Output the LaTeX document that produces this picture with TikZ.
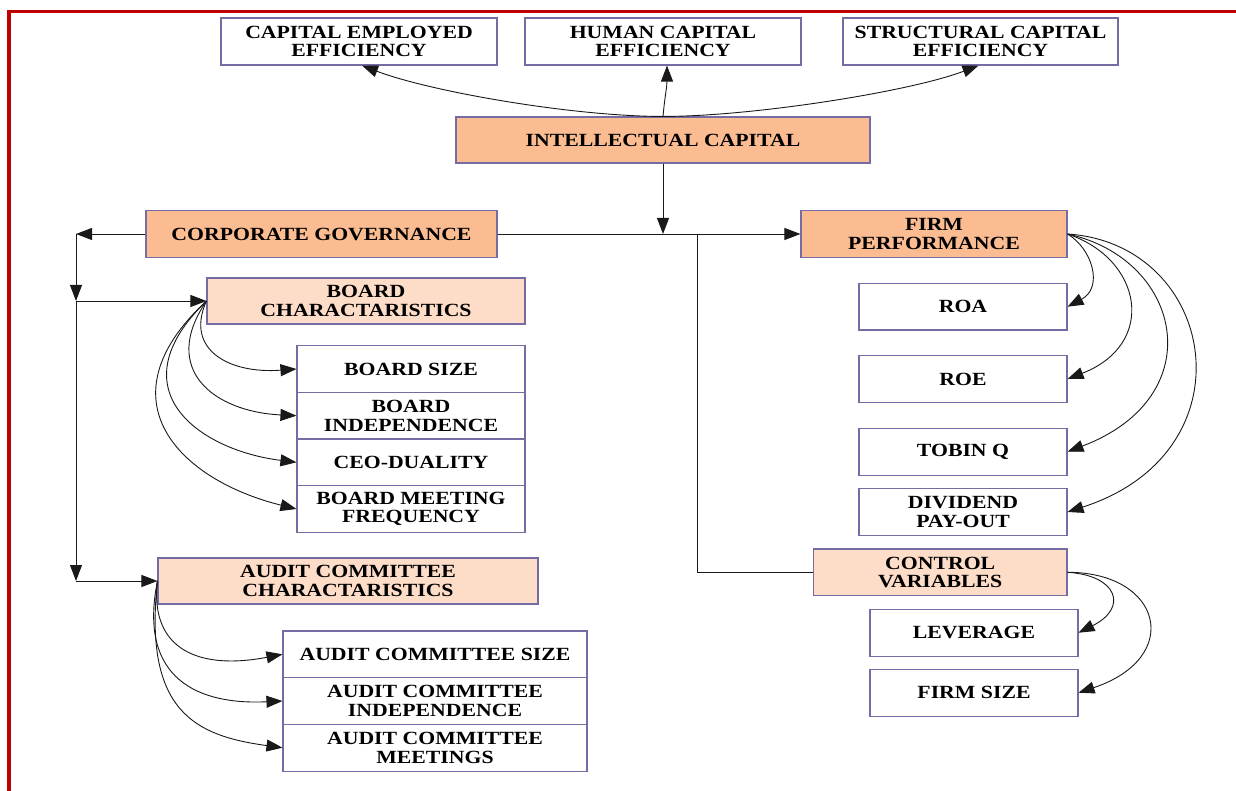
\documentclass[tikz,border=0pt]{standalone}
\usepackage{fontspec}
\setmainfont{Liberation Serif}[FakeStretch=1.17]
\usetikzlibrary{arrows.meta}

\definecolor{peachdark}{RGB}{251,188,146}
\definecolor{peachlight}{RGB}{253,220,200}
\definecolor{boxline}{RGB}{118,108,165}
\definecolor{framered}{RGB}{192,0,0}

\tikzset{
  box/.style={draw=boxline, line width=1.1pt, fill=white, inner sep=0pt,
    align=center, text=black, font=\bfseries\fontsize{18.6}{18.5}\selectfont},
  mainbox/.style={box, fill=peachdark},
  subbox/.style={box, fill=peachlight},
  conn/.style={line width=0.9pt, draw=black!90},
  arr/.style={conn, -{Triangle[length=16pt,width=12pt]}},
}

\begin{document}
\begin{tikzpicture}[x=1pt, y=-1pt]
\useasboundingbox (0,0) rectangle (1236,791);

% frame
\draw[framered, line width=3.5pt, line join=miter] (9,791) -- (9,11.7) -- (1236,11.7);

% efficiency measures
\node[box, minimum width=276, minimum height=47] (cee) at (359,41.5) {CAPITAL EMPLOYED\\EFFICIENCY};
\node[box, minimum width=276, minimum height=47] (hce) at (663,41.5) {HUMAN CAPITAL\\EFFICIENCY};
\node[box, minimum width=275, minimum height=47] (sce) at (980.5,41.5) {STRUCTURAL CAPITAL\\EFFICIENCY};

\node[mainbox, minimum width=414, minimum height=46] (ic) at (663,140) {INTELLECTUAL CAPITAL};

% governance branch
\node[mainbox, minimum width=351, minimum height=46.6] (cg) at (321.5,234) {CORPORATE GOVERNANCE};
\node[subbox, minimum width=318, minimum height=46] (bc) at (366,301) {BOARD\\CHARACTARISTICS};
\node[box, minimum width=228, minimum height=46.6] (bsz) at (411,369) {BOARD SIZE};
\node[box, minimum width=228, minimum height=46.6] (bi) at (411,415.7) {BOARD\\INDEPENDENCE};
\node[box, minimum width=228, minimum height=46.6] (ceo) at (411,462.3) {CEO-DUALITY};
\node[box, minimum width=228, minimum height=46.6] (bmf) at (411,509) {BOARD MEETING\\FREQUENCY};

\node[subbox, minimum width=380, minimum height=46] (acc) at (348,581) {AUDIT COMMITTEE\\CHARACTARISTICS};
\node[box, minimum width=304, minimum height=46.7] (acs) at (435,654.3) {AUDIT COMMITTEE SIZE};
\node[box, minimum width=304, minimum height=46.7] (aci) at (435,701) {AUDIT COMMITTEE\\INDEPENDENCE};
\node[box, minimum width=304, minimum height=46.7] (acm) at (435,747.7) {AUDIT COMMITTEE\\MEETINGS};

% performance branch
\node[mainbox, minimum width=266, minimum height=46.6] (fp) at (934,234) {FIRM\\PERFORMANCE};
\node[box, minimum width=208, minimum height=46.7] (roa) at (963,306.7) {ROA};
\node[box, minimum width=208, minimum height=46.7] (roe) at (963,379) {ROE};
\node[box, minimum width=208, minimum height=46.7] (tq) at (963,451.7) {TOBIN Q};
\node[box, minimum width=208, minimum height=46.3] (dp) at (963,512) {DIVIDEND\\PAY-OUT};

\node[subbox, minimum width=253.5, minimum height=46.7] (cv) at (940.2,572.3) {CONTROL\\VARIABLES};
\node[box, minimum width=208, minimum height=46.7] (lev) at (974,632.7) {LEVERAGE};
\node[box, minimum width=208, minimum height=46.7] (fs) at (974,692.7) {FIRM SIZE};

% junction points
\coordinate (cgl) at (76,234);
\coordinate (bj) at (76,301);
\coordinate (aj) at (76,581);
\coordinate (icj) at (663,234);
\coordinate (cvj) at (697,234);

% intellectual capital to its components
\draw[arr] (ic.north) .. controls +(-90,0) and +(68,26) .. ([xshift=3pt]cee.south);
\draw[arr] (ic.north) .. controls +(2,-22) and +(0,22) .. ([xshift=4pt]hce.south);
\draw[arr] (ic.north) .. controls +(90,0) and +(-68,26) .. ([xshift=-2pt]sce.south);

% main flow
\draw[arr] (ic.south) -- (icj);
\draw[arr] (cg.east) -- (fp.west);
\draw[conn] (cvj) |- (cv.west);

% governance tree
\draw[arr] (cg.west) -- (cgl);
\draw[arr] (cgl) -- (bj);
\draw[arr] (bj) -- (aj);
\draw[arr] (bj) -- (bc.west);
\draw[arr] (aj) -- (acc.west);

\draw[arr] (bc.west) .. controls +(-22,49) and +(-67,5) .. (bsz.west);
\draw[arr] (bc.west) .. controls +(-47,69) and +(-82,-4) .. (bi.west);
\draw[arr] (bc.west) .. controls +(-92,89) and +(-97,-12) .. (ceo.west);
\draw[arr] (bc.west) .. controls +(-107,99) and +(-117,-29) .. (bmf.west);

\draw[arr] (acc.west) .. controls +(-8,69) and +(-83,16) .. (acs.west);
\draw[arr] (acc.west) .. controls +(-20,99) and +(-83,4) .. (aci.west);
\draw[arr] (acc.west) .. controls +(-14,130) and +(-88,-12) .. (acm.west);

% performance measures
\draw[arr] (fp.east) .. controls +(25,15) and +(36,-19) .. (roa.east);
\draw[arr] (fp.east) .. controls +(75,25) and +(90,-35) .. (roe.east);
\draw[arr] (fp.east) .. controls +(115,25) and +(145,-55) .. (tq.east);
\draw[arr] (fp.east) .. controls +(150,10) and +(186,-60) .. (dp.east);

% control variables
\draw[arr] (cv.east) .. controls +(50,3) and +(50,-25) .. (lev.east);
\draw[arr] (cv.east) .. controls +(95,0) and +(105,-35) .. (fs.east);
\end{tikzpicture}
\end{document}
